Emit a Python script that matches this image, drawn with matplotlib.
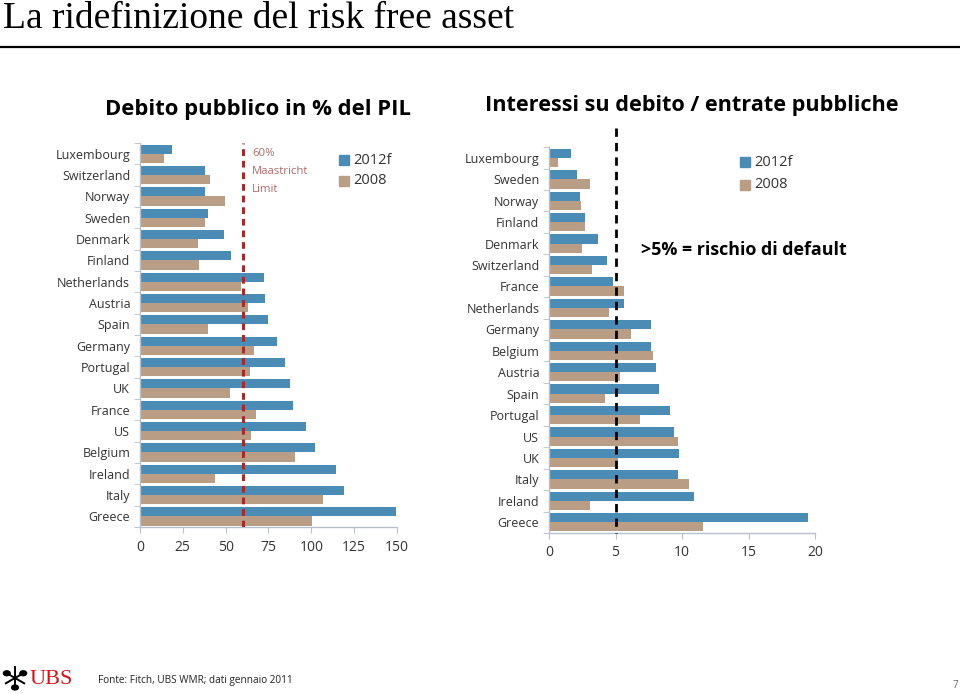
import numpy as np
import matplotlib
matplotlib.use('Agg')
import matplotlib.pyplot as plt
from matplotlib.lines import Line2D
from matplotlib.patches import Circle

# ---------- Dati ----------
paesi_pil = ["Luxembourg", "Switzerland", "Norway", "Sweden", "Denmark", "Finland",
             "Netherlands", "Austria", "Spain", "Germany", "Portugal", "UK", "France",
             "US", "Belgium", "Ireland", "Italy", "Greece"]
pil_2012f = [18.5, 37.8, 38.2, 39.7, 49.0, 53.0, 72.3, 73.0, 74.6, 79.9, 84.7, 87.5,
             89.4, 96.8, 101.9, 114.5, 119.0, 149.6]
pil_2008 = [13.8, 40.9, 49.7, 38.0, 34.1, 34.7, 59.0, 63.1, 39.7, 66.6, 64.3, 52.4,
            67.8, 65.0, 90.4, 43.8, 106.7, 100.3]

paesi_int = ["Luxembourg", "Sweden", "Norway", "Finland", "Denmark", "Switzerland",
             "France", "Netherlands", "Germany", "Belgium", "Austria", "Spain",
             "Portugal", "US", "UK", "Italy", "Ireland", "Greece"]
int_2012f = [1.63, 2.08, 2.33, 2.71, 3.69, 4.39, 4.82, 5.62, 7.63, 7.63, 8.08, 8.28,
             9.13, 9.41, 9.79, 9.66, 10.92, 19.45]
int_2008 = [0.65, 3.09, 2.43, 2.71, 2.51, 3.24, 5.62, 4.54, 6.15, 7.80, 5.37, 4.19,
            6.85, 9.66, 5.22, 10.56, 3.09, 11.59]

# ---------- Stile ----------
BLU = "#4a8cb5"
BEIGE = "#b99d85"
ROSSO = "#a52a2a"
GRIGIO = "#b8c0cc"
FONT = "Open Sans"


def bar_chart(ax, paesi, v_new, v_old, xmax, xticks):
    y = np.arange(len(paesi))
    h = 0.43
    ax.barh(y - h / 2, v_new, height=h, color=BLU, zorder=2)
    ax.barh(y + h / 2, v_old, height=h, color=BEIGE, zorder=2)
    ax.set_ylim(len(paesi) - 0.5, -0.5)
    ax.set_xlim(0, xmax)
    ax.set_yticks(y)
    ax.set_yticklabels(paesi, fontsize=9, family=FONT, color="#333333")
    ax.tick_params(axis="y", length=0, pad=7)
    ax.set_yticks(np.arange(len(paesi) + 1) - 0.5, minor=True)
    ax.tick_params(axis="y", which="minor", length=4, color=GRIGIO)
    ax.set_xticks(xticks)
    ax.set_xticklabels([str(t) for t in xticks], fontsize=10, family=FONT, color="#333333")
    ax.tick_params(axis="x", length=4, color=GRIGIO, pad=5)
    for s in ["top", "right"]:
        ax.spines[s].set_visible(False)
    for s in ["left", "bottom"]:
        ax.spines[s].set_color(GRIGIO)
        ax.spines[s].set_linewidth(1.0)


fig = plt.figure(figsize=(9.6, 6.94), dpi=100)

# Titolo pagina
fig.text(0.003, 1 - 28 / 694, "La ridefinizione del risk free asset", family="Liberation Serif",
         fontsize=27, va="baseline", ha="left")
fig.add_artist(Line2D([0.0, 1.0], [0.932, 0.932], color="black", lw=1.6))

# ---------- Grafico sinistro ----------
ax1 = fig.add_axes([0.1458, 0.2406, 0.2677, 0.5533])
bar_chart(ax1, paesi_pil, pil_2012f, pil_2008, 150, [0, 25, 50, 75, 100, 125, 150])
ax1.axvline(60, color=ROSSO, lw=2.2, ls=(0, (2.2, 1.6)), zorder=3)
for k, riga in enumerate(["60%", "Maastricht", "Limit"]):
    fig.text(252 / 960, 1 - (153 + 18 * k) / 694, riga, color="#b36a6a", fontsize=8.2,
             family=FONT, va="center", ha="left")
fig.text(105 / 960, 1 - 110 / 694, "Debito pubblico in % del PIL", fontsize=15.8,
         weight="bold", family=FONT, va="center", ha="left")

# ---------- Grafico destro ----------
ax2 = fig.add_axes([0.5719, 0.232, 0.2771, 0.556])
bar_chart(ax2, paesi_int, int_2012f, int_2008, 20, [0, 5, 10, 15, 20])
ax2.plot([5, 5], [-1.4, 17.5], color="black", lw=2.0, ls=(0, (3, 2.2)), zorder=3,
         clip_on=False)
ax2.text(6.9, 4.3, ">5% = rischio di default", fontsize=12.9, weight="bold", family=FONT,
         va="center", ha="left")
fig.text(485 / 960, 1 - 105 / 694, "Interessi su debito / entrate pubbliche", fontsize=15.6,
         weight="bold", family=FONT, va="center", ha="left")

# ---------- Legende ----------
for (lx, ly), gap in [((339, 160), 21), ((740, 162), 23)]:
    for k, (col, lab) in enumerate([(BLU, "2012f"), (BEIGE, "2008")]):
        yy = 1 - (ly + k * gap) / 694
        fig.patches.append(plt.Rectangle((lx / 960, yy - 0.0075), 0.0105, 0.0145,
                                         color=col, transform=fig.transFigure))
        fig.text((lx + 14) / 960, yy, lab, fontsize=10.5, family=FONT, va="center",
                 ha="left", color="#333333")

# ---------- Piede ----------
fig.text(98 / 960, 1 - 681 / 694, "Fonte: Fitch, UBS WMR; dati gennaio 2011", fontsize=7.2,
         family=FONT, va="center", ha="left", color="#222222")
fig.text(955 / 960, 1 - 686 / 694, "7", fontsize=7, family=FONT, va="center", ha="center",
         color="#666666")
fig.text(30 / 960, 1 - 679 / 694, "UBS", fontsize=16, family="Liberation Serif",
         va="center", ha="left", color="#d0161c")
# chiavi stilizzate del logo
cx, cy = 15 / 960, 1 - 678 / 694
for ang in [90, 210, 330]:
    dx = np.cos(np.radians(ang)) * 0.011
    dy = np.sin(np.radians(ang)) * 0.011 * 960 / 694
    fig.add_artist(Line2D([cx - dx, cx + dx], [cy - dy, cy + dy], color="black", lw=1.4))
    fig.add_artist(Circle((cx - dx * 0.9, cy - dy * 0.9), 0.0035, color="black",
                          transform=fig.transFigure))

fig.savefig("out.png", dpi=100)
